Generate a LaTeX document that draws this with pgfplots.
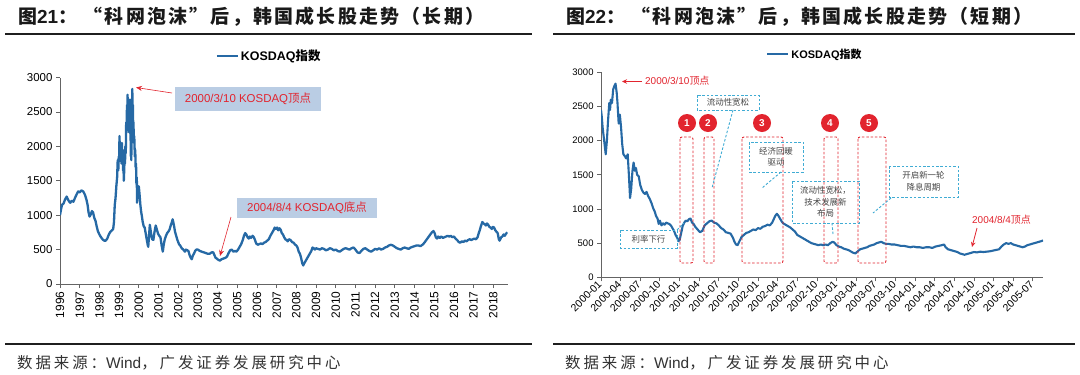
\documentclass[border=0pt]{standalone}
\usepackage{fontspec}
\setmainfont{Liberation Sans}
\newfontfamily\cjk{Noto Sans CJK SC}
\newfontfamily\cjkt{Noto Sans CJK SC}[LetterSpace=12]
\newfontfamily\cjks{Noto Sans CJK SC}[LetterSpace=19]
\usepackage{pgfplots}
\usepackage{pgfplotstable}
\pgfplotsset{compat=1.18}
\usetikzlibrary{arrows.meta}
\definecolor{kline}{RGB}{38,105,165}
\definecolor{annred}{RGB}{226,36,46}
\definecolor{anncyan}{RGB}{64,172,212}
\definecolor{boxfill}{RGB}{186,205,228}
\definecolor{axgray}{RGB}{100,100,100}
\definecolor{txtgray}{RGB}{70,70,70}

\pgfplotstableread{
x y
1996.00 1000
1996.05 1080
1996.10 1150
1996.18 1170
1996.26 1230
1996.34 1270
1996.40 1230
1996.46 1200
1996.52 1180
1996.60 1210
1996.68 1195
1996.76 1250
1996.84 1300
1996.92 1345
1997.00 1330
1997.08 1360
1997.18 1345
1997.26 1300
1997.34 1230
1997.40 1150
1997.45 1040
1997.50 980
1997.56 1010
1997.62 1060
1997.68 1040
1997.74 960
1997.80 920
1997.86 840
1997.92 770
1998.00 720
1998.08 680
1998.16 650
1998.24 630
1998.32 630
1998.40 660
1998.48 720
1998.56 760
1998.64 780
1998.70 800
1998.74 900
1998.78 1150
1998.82 1250
1998.86 1420
1998.90 1550
1998.93 1800
1998.96 1650
1998.98 1850
1999.00 1780
1999.02 2150
1999.04 1900
1999.06 2050
1999.08 1800
1999.10 1950
1999.12 1750
1999.14 2050
1999.16 1850
1999.18 1950
1999.20 1650
1999.22 1750
1999.24 1500
1999.26 1650
1999.28 1850
1999.30 1750
1999.32 2000
1999.34 1900
1999.36 2350
1999.38 2200
1999.40 2600
1999.42 2450
1999.43 2750
1999.45 2400
1999.46 2600
1999.48 2250
1999.50 2400
1999.52 2200
1999.54 2550
1999.55 2680
1999.57 2350
1999.58 2200
1999.60 1850
1999.61 2050
1999.62 1800
1999.64 2450
1999.65 2300
1999.67 2834
1999.69 2450
1999.70 2600
1999.72 2200
1999.73 2350
1999.75 2050
1999.77 2150
1999.80 1850
1999.82 1950
1999.84 1700
1999.86 1750
1999.88 1450
1999.90 1550
1999.91 1180
1999.93 1300
1999.95 1350
1999.97 1250
2000.00 1420
2000.04 1300
2000.08 1150
2000.12 1050
2000.16 980
2000.20 900
2000.25 840
2000.30 820
2000.36 720
2000.42 620
2000.46 560
2000.48 540
2000.52 700
2000.56 860
2000.60 780
2000.64 700
2000.68 650
2000.74 640
2000.80 760
2000.86 850
2000.92 790
2000.98 730
2001.04 700
2001.10 680
2001.16 560
2001.22 470
2001.26 560
2001.32 650
2001.38 700
2001.44 740
2001.50 760
2001.56 790
2001.62 850
2001.68 900
2001.72 940
2001.78 860
2001.84 760
2001.90 700
2001.96 640
2002.04 580
2002.10 560
2002.18 520
2002.26 500
2002.34 470
2002.40 500
2002.46 490
2002.52 480
2002.58 420
2002.64 380
2002.69 360
2002.74 410
2002.80 440
2002.86 480
2002.92 500
2003.00 500
2003.10 480
2003.20 470
2003.30 460
2003.40 450
2003.50 440
2003.60 440
2003.70 460
2003.78 460
2003.84 420
2003.90 380
2003.96 370
2004.04 350
2004.12 340
2004.20 360
2004.30 370
2004.40 380
2004.48 400
2004.56 450
2004.64 490
2004.72 500
2004.80 470
2004.88 480
2004.96 470
2005.04 500
2005.12 540
2005.20 580
2005.28 640
2005.34 700
2005.40 740
2005.46 720
2005.52 680
2005.58 660
2005.64 690
2005.70 670
2005.78 700
2005.84 680
2005.90 640
2005.96 590
2006.04 570
2006.12 580
2006.20 590
2006.28 580
2006.36 600
2006.44 610
2006.52 630
2006.60 650
2006.68 700
2006.76 740
2006.84 780
2006.90 820
2006.96 800
2007.02 820
2007.08 780
2007.14 810
2007.20 790
2007.26 740
2007.32 720
2007.38 680
2007.44 650
2007.50 640
2007.56 620
2007.62 650
2007.70 640
2007.78 610
2007.86 600
2007.94 570
2008.00 560
2008.06 530
2008.12 470
2008.18 440
2008.24 380
2008.30 300
2008.35 270
2008.40 300
2008.46 330
2008.52 360
2008.58 390
2008.64 420
2008.70 450
2008.76 480
2008.82 530
2008.88 520
2008.94 500
2009.00 520
2009.10 510
2009.20 500
2009.30 520
2009.40 510
2009.50 490
2009.60 500
2009.70 520
2009.80 510
2009.90 490
2010.00 500
2010.10 480
2010.20 470
2010.30 490
2010.40 510
2010.50 520
2010.60 510
2010.70 500
2010.80 520
2010.90 530
2011.00 500
2011.10 460
2011.20 450
2011.30 480
2011.40 510
2011.50 520
2011.60 500
2011.70 480
2011.80 470
2011.90 490
2012.00 510
2012.10 500
2012.20 520
2012.30 500
2012.40 510
2012.50 530
2012.60 540
2012.70 560
2012.80 570
2012.90 560
2013.00 540
2013.10 520
2013.20 510
2013.30 500
2013.40 520
2013.50 530
2013.60 520
2013.70 510
2013.80 530
2013.90 540
2014.00 550
2014.10 560
2014.20 560
2014.30 550
2014.40 570
2014.50 600
2014.60 640
2014.70 680
2014.80 720
2014.88 750
2014.96 770
2015.02 740
2015.08 680
2015.14 660
2015.20 690
2015.28 670
2015.36 690
2015.44 670
2015.52 680
2015.60 690
2015.68 700
2015.76 690
2015.84 700
2015.92 680
2016.00 690
2016.08 660
2016.16 640
2016.24 610
2016.32 600
2016.40 620
2016.48 610
2016.56 630
2016.64 620
2016.72 640
2016.80 650
2016.88 640
2016.96 650
2017.04 660
2017.12 650
2017.20 680
2017.26 740
2017.32 790
2017.38 850
2017.44 900
2017.50 880
2017.56 870
2017.62 850
2017.68 880
2017.74 860
2017.80 830
2017.86 820
2017.92 800
2017.98 830
2018.04 820
2018.10 780
2018.16 760
2018.22 740
2018.28 650
2018.32 630
2018.40 680
2018.46 690
2018.52 720
2018.58 700
2018.64 730
2018.72 750
}\longdata

\pgfplotstableread{
x y
2000.000 2450
2000.010 2350
2000.020 2200
2000.030 2100
2000.045 1950
2000.060 1800
2000.075 2000
2000.090 2300
2000.105 2550
2000.115 2450
2000.125 2600
2000.140 2550
2000.155 2750
2000.170 2800
2000.185 2834
2000.200 2700
2000.210 2550
2000.225 2250
2000.240 2380
2000.255 2200
2000.270 1950
2000.285 1800
2000.300 1780
2000.320 1740
2000.340 1800
2000.355 1500
2000.370 1160
2000.385 1300
2000.400 1550
2000.415 1680
2000.430 1560
2000.445 1600
2000.460 1500
2000.480 1480
2000.500 1350
2000.520 1280
2000.540 1240
2000.560 1220
2000.580 1250
2000.600 1190
2000.620 1150
2000.645 1080
2000.665 1010
2000.685 960
2000.700 900
2000.720 860
2000.735 780
2000.750 830
2000.770 760
2000.790 790
2000.810 770
2000.830 800
2000.850 790
2000.870 780
2000.890 760
2000.910 720
2000.930 680
2000.950 620
2000.970 580
2000.985 530
2001.000 540
2001.020 640
2001.040 750
2001.060 800
2001.080 830
2001.100 820
2001.120 850
2001.140 860
2001.160 800
2001.180 780
2001.200 740
2001.230 700
2001.260 660
2001.290 680
2001.320 760
2001.350 790
2001.380 820
2001.410 830
2001.440 800
2001.470 790
2001.500 760
2001.530 720
2001.560 700
2001.590 660
2001.620 650
2001.650 640
2001.680 580
2001.700 520
2001.720 480
2001.740 470
2001.760 520
2001.790 590
2001.820 620
2001.850 650
2001.880 660
2001.910 680
2001.940 700
2001.970 690
2002.000 720
2002.030 710
2002.060 740
2002.090 750
2002.120 770
2002.150 760
2002.180 800
2002.200 850
2002.220 900
2002.240 930
2002.260 900
2002.280 860
2002.300 820
2002.320 790
2002.350 770
2002.380 750
2002.410 730
2002.440 700
2002.470 670
2002.500 620
2002.530 600
2002.560 580
2002.590 560
2002.620 540
2002.650 520
2002.680 500
2002.710 490
2002.740 480
2002.770 470
2002.800 480
2002.830 470
2002.860 480
2002.890 470
2002.920 500
2002.950 520
2002.970 510
2003.000 470
2003.030 450
2003.060 440
2003.090 420
2003.120 410
2003.150 400
2003.180 380
2003.210 360
2003.240 350
2003.270 380
2003.300 410
2003.330 420
2003.360 430
2003.390 440
2003.420 460
2003.450 470
2003.480 480
2003.510 500
2003.540 510
2003.570 520
2003.600 500
2003.630 490
2003.660 490
2003.700 480
2003.740 480
2003.780 470
2003.820 460
2003.860 460
2003.900 450
2003.940 440
2003.980 450
2004.020 440
2004.060 440
2004.100 430
2004.140 440
2004.180 440
2004.220 430
2004.260 450
2004.300 460
2004.340 470
2004.370 480
2004.390 440
2004.420 410
2004.450 400
2004.480 390
2004.510 380
2004.540 370
2004.570 350
2004.600 340
2004.630 330
2004.660 340
2004.690 350
2004.720 360
2004.750 370
2004.790 365
2004.830 375
2004.870 370
2004.910 375
2004.950 380
2004.990 390
2005.030 400
2005.070 410
2005.100 450
2005.130 480
2005.160 500
2005.190 490
2005.220 500
2005.250 480
2005.280 470
2005.310 460
2005.340 450
2005.370 440
2005.400 450
2005.430 470
2005.460 480
2005.490 490
2005.520 500
2005.550 510
2005.580 520
2005.610 530
2005.630 540
}\shortdata

\pgfplotsset{
  kaxis/.style={
    scale only axis,
    axis x line*=bottom, axis y line*=left,
    axis line style={axgray, line width=0.8bp},
    tick style={axgray, line width=0.8bp},
    tick align=outside,
    major tick length=4bp,
    /pgf/number format/assume math mode=true,
    /pgf/number format/1000 sep={},
    ymin=0, ymax=3000, ytick={0,500,...,3000},
    legend image code/.code={\draw[#1] (0bp,0bp) -- (21bp,0bp);},
    legend style={draw=none, fill=none, inner sep=0pt, anchor=center},
  }
}

\begin{document}
\begin{tikzpicture}
\begin{scope}[x=1bp,y=-1bp]
\useasboundingbox (0,0) rectangle (1080,374);
\fill[white] (0,0) rectangle (1080,374);
\end{scope}

% ---------- left chart ----------
\begin{axis}[kaxis, at={(60bp,-284bp)}, anchor=south west,
  width=447.7bp, height=206.5bp,
  xmin=1996, xmax=2018.73, xtick={1996,...,2018},
  xticklabel style={rotate=90, anchor=east, font=\fontsize{12}{12}\selectfont},
  yticklabel style={font=\fontsize{11.5}{12}\selectfont},
  legend style={at={(0.467,1.104)}, font=\bfseries\fontsize{12.5}{13}\selectfont},
]
\addplot[kline, line width=2.3bp, line join=round] table[x=x,y=y]{\longdata};
\legend{KOSDAQ{\cjk 指数}}
\end{axis}

% ---------- right chart ----------
\begin{axis}[kaxis, at={(601bp,-277.3bp)}, anchor=south west,
  width=442bp, height=205bp,
  xmin=2000, xmax=2005.63,
  xtick={2000,2000.25,2000.5,2000.75,2001,2001.25,2001.5,2001.75,2002,2002.25,2002.5,2002.75,2003,2003.25,2003.5,2003.75,2004,2004.25,2004.5,2004.75,2005,2005.25,2005.5},
  xticklabels={2000-01,2000-04,2000-07,2000-10,2001-01,2001-04,2001-07,2001-10,2002-01,2002-04,2002-07,2002-10,2003-01,2003-04,2003-07,2003-10,2004-01,2004-04,2004-07,2004-10,2005-01,2005-04,2005-07},
  xticklabel style={rotate=45, anchor=east, font=\fontsize{10.5}{11}\selectfont, inner sep=1.5bp},
  yticklabel style={font=\fontsize{9.5}{10}\selectfont},
  legend style={at={(0.484,1.089)}, font=\bfseries\fontsize{11}{12}\selectfont},
]
\addplot[kline, line width=2.1bp, line join=round] table[x=x,y=y]{\shortdata};
\legend{KOSDAQ{\cjk 指数}}
\end{axis}

% ---------- frame, titles, annotations ----------
\begin{scope}[x=1bp,y=-1bp]
\fill[black!88] (5,32.6) rectangle (532,35.2);
\fill[black!88] (553,32.6) rectangle (1075,35.2);
\fill[black!88] (5,342.8) rectangle (532,345.4);
\fill[black!88] (553,342.8) rectangle (1075,345.4);

\node[anchor=west, inner sep=0pt, text=black!90, font=\cjkt\bfseries\fontsize{19}{20}\selectfont] at (18,17)
  {图{\rmfamily\bfseries 21}：\ “科网泡沫”后，韩国成长股走势（长期）};
\node[anchor=west, inner sep=0pt, text=black!90, font=\cjkt\bfseries\fontsize{19}{20}\selectfont] at (566,17)
  {图{\rmfamily\bfseries 22}：\ “科网泡沫”后，韩国成长股走势（短期）};

\node[anchor=west, inner sep=0pt, text=black!80, font=\cjks\fontsize{15.5}{16}\selectfont] at (17,363)
  {数据来源：{\rmfamily Wind}，广发证券发展研究中心};
\node[anchor=west, inner sep=0pt, text=black!80, font=\cjks\fontsize{15.5}{16}\selectfont] at (565,363)
  {数据来源：{\rmfamily Wind}，广发证券发展研究中心};

% left annotations
\fill[boxfill] (175,87) rectangle (321,111);
\node[text=annred, font=\fontsize{11.5}{12}\selectfont] at (248,99) {2000/3/10 KOSDAQ{\cjk 顶点}};
\draw[annred, line width=0.6bp, -{Stealth[length=6bp,width=5bp]}] (172,93) -- (136,87.5);
\fill[boxfill] (237,198) rectangle (377,218);
\node[text=annred, font=\fontsize{11.5}{12}\selectfont] at (307,208) {2004/8/4 KOSDAQ{\cjk 底点}};
\draw[annred, line width=0.6bp, -{Stealth[length=6bp,width=5bp]}] (231,217) -- (220,256);

% right annotations
\node[anchor=west, text=annred, inner sep=0pt, font=\fontsize{10}{11}\selectfont] at (645,81) {2000/3/10{\cjk 顶点}};
\draw[annred, line width=0.8bp, -{Stealth[length=5bp,width=4.5bp]}] (642,81.5) -- (622,81.5);
\node[anchor=west, text=annred, inner sep=0pt, font=\fontsize{10}{11}\selectfont] at (972,220) {2004/8/4{\cjk 顶点}};
\draw[annred, line width=0.8bp, -{Stealth[length=5bp,width=4.5bp]}] (977,228) -- (972,247);

\tikzset{rbox/.style={draw=annred, line width=0.9bp, dash pattern=on 2.5bp off 1.8bp, rounded corners=2bp},
         cbox/.style={draw=anncyan, line width=0.9bp, dash pattern=on 2.5bp off 1.8bp},
         ctext/.style={text=txtgray, align=center, font=\cjk\fontsize{8.5}{11.5}\selectfont}}
\draw[rbox] (680,137) rectangle (693,263);
\draw[rbox] (704,137) rectangle (714,263);
\draw[rbox] (742,137) rectangle (783,263);
\draw[rbox] (824,137) rectangle (838,263);
\draw[rbox] (858,137) rectangle (886,263);
\foreach \cx/\n in {687/1,708/2,762/3,830/4,869/5}{
  \fill[annred] (\cx,123) circle (9);
  \node[text=white, font=\bfseries\fontsize{10}{10}\selectfont] at (\cx,123) {\n};
}

\draw[cbox] (697,95) rectangle (759,110);
\node[ctext] at (728,102.5) {流动性宽松};
\draw[cbox] (733,110) -- (712,188);

\draw[cbox] (749,142) rectangle (803,172);
\node[ctext] at (776,157) {经济回暖\\驱动};
\draw[cbox] (781,172) -- (762,188);

\draw[cbox] (792,181) rectangle (859,223);
\node[ctext] at (825.5,202) {流动性宽松，\\技术发展新\\布局};
\draw[cbox] (832,223) -- (833,234);

\draw[cbox] (889,166) rectangle (958,197);
\node[ctext] at (923.5,181.5) {开启新一轮\\降息周期};
\draw[cbox] (891,198) -- (873,213);

\draw[cbox] (620,230) rectangle (677,248);
\node[ctext] at (648.5,239) {利率下行};
\draw[cbox] (677,230) -- (684,223);
\end{scope}
\end{tikzpicture}
\end{document}
